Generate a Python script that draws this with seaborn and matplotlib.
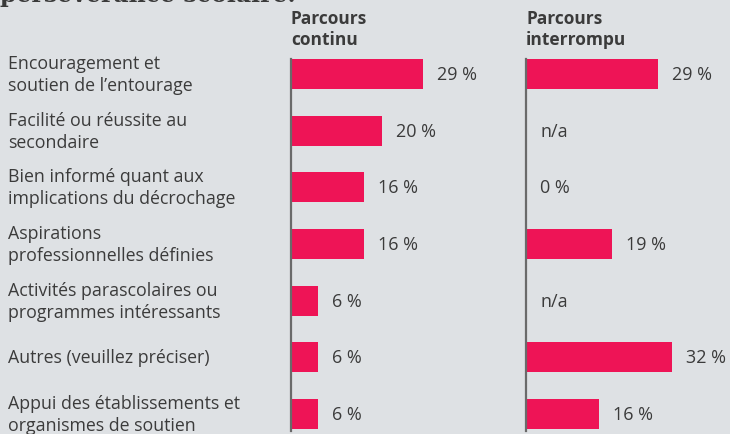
import numpy as np
import pandas as pd
import seaborn as sns
import matplotlib.pyplot as plt
from matplotlib.transforms import blended_transform_factory

categories = [
    "Encouragement et\nsoutien de l\u2019entourage",
    "Facilité ou réussite au\nsecondaire",
    "Bien informé quant aux\nimplications du décrochage",
    "Aspirations\nprofessionnelles définies",
    "Activités parascolaires ou\nprogrammes intéressants",
    "Autres (veuillez préciser)",
    "Appui des établissements et\norganismes de soutien",
]
continu = [29, 20, 16, 16, 6, 6, 6]
interrompu = [29, np.nan, 0, 19, np.nan, 32, 16]
labels_continu = ["29 %", "20 %", "16 %", "16 %", "6 %", "6 %", "6 %"]
labels_interrompu = ["29 %", "n/a", "0 %", "19 %", "n/a", "32 %", "16 %"]
headers = ["Parcours\ncontinu", "Parcours\ninterrompu"]
title = "persévérance scolaire."

BG = "#dee1e4"
BAR = "#ee1456"
TXT = "#3b3b3b"

sns.set_theme(style="white")
plt.rcParams["font.family"] = ["Open Sans", "DejaVu Sans"]

W, H = 730, 435
fig = plt.figure(figsize=(W / 100, H / 100), dpi=100, facecolor=BG)

df = pd.DataFrame({"cat": categories, "continu": continu, "interrompu": interrompu})

px_per_unit = 4.55
ax_w = 200
lefts = [291, 526]
cols = ["continu", "interrompu"]
labsets = [labels_continu, labels_interrompu]
axes = []
for left, col, labs, head in zip(lefts, cols, labsets, headers):
    ax = fig.add_axes([left / W, (H - 432) / H, ax_w / W, (432 - 60) / H])
    ax.set_facecolor("none")
    sub = df.copy()
    sub[col] = sub[col].fillna(0)
    sns.barplot(data=sub, y="cat", x=col, ax=ax, color=BAR, saturation=1,
                orient="h", width=0.53, order=categories, linewidth=0,
                edgecolor=BAR)
    ax.set_xlim(0, ax_w / px_per_unit)
    ax.set_ylim(6.3, -0.265)
    ax.set_xlabel("")
    ax.set_ylabel("")
    ax.set_xticks([])
    ax.set_yticks([])
    for s in ["top", "right", "bottom"]:
        ax.spines[s].set_visible(False)
    ax.spines["left"].set_color("#6a6a6a")
    ax.spines["left"].set_linewidth(1.6)
    vals = df[col].values
    for i, (v, lab) in enumerate(zip(vals, labs)):
        x = 0 if np.isnan(v) else v
        ax.annotate(lab, xy=(x, i), xytext=(14, 0), textcoords="offset pixels",
                    va="center", ha="left", fontsize=13, color=TXT)
    fig.text(left / W, 1 - 10 / H, head, va="top", ha="left", fontsize=12.5,
             fontweight="bold", color=TXT, linespacing=1.22)
    axes.append(ax)

tr = blended_transform_factory(fig.transFigure, axes[0].transData)
for i, c in enumerate(categories):
    axes[0].text(8 / W, i, c, transform=tr, va="center", ha="left",
                 fontsize=12.8, color=TXT, linespacing=1.3, clip_on=False)

fig.text(0, 1 - 2 / H, title, va="baseline", ha="left", fontsize=17,
         fontweight="bold", color="#3a3a3a", family=["DejaVu Serif"])

fig.savefig("out.png", dpi=100, facecolor=BG)
